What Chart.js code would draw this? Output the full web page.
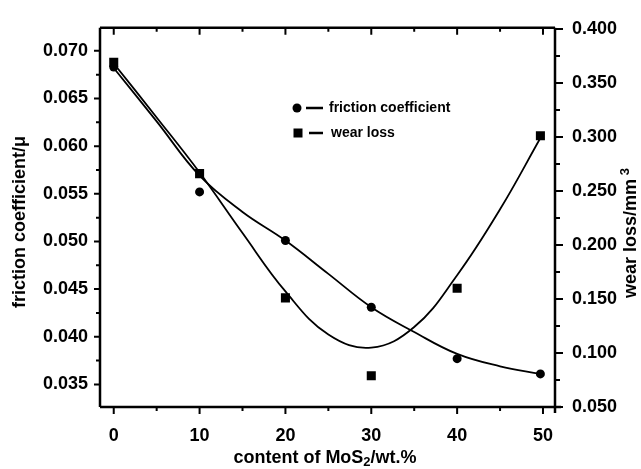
<!DOCTYPE html>
<html>
<head>
<meta charset="utf-8">
<script src="https://cdn.jsdelivr.net/npm/chart.js@4/dist/chart.umd.min.js"></script>
<style>
  body { margin: 0; background: #fff; }
  canvas { display: block; }
</style>
</head>
<body>
<canvas id="chart" width="641" height="469"></canvas>
<script>
// measured points
var xPoints = [0, 10, 20, 30, 40, 49.7];
var frictionPoints = [0.0683, 0.0552, 0.0501, 0.0431, 0.0377, 0.0361];
var wearPoints = [0.369, 0.266, 0.151, 0.079, 0.160, 0.301];
// fitted curves
var fitX = [0, 5, 10, 15, 20, 25, 30, 35, 40, 45, 49.7];
var frictionFit = [0.0682, 0.0626, 0.0569, 0.0531, 0.0501, 0.0466, 0.0431, 0.0405, 0.0382, 0.0369, 0.0361];
var wearFit = [0.368, 0.318, 0.267, 0.211, 0.157, 0.117, 0.105, 0.124, 0.172, 0.233, 0.299];
// tick labels
var xTicks = [0, 10, 20, 30, 40, 50];
var leftTicks = [0.035, 0.040, 0.045, 0.050, 0.055, 0.060, 0.065, 0.070];
var rightTicks = [0.050, 0.100, 0.150, 0.200, 0.250, 0.300, 0.350, 0.400];

var FONT = '"Liberation Sans", Arial, Helvetica, sans-serif';

function pairs(xs, ys) {
	return xs.map(function (x, i) { return { x: x, y: ys[i] }; });
}

function setTicks(list) {
	return function (scale) {
		scale.ticks = list.map(function (v) { return { value: v }; });
	};
}

// axes frame, tick marks, titles and legend
var decorations = {
	id: "decorations",
	afterDraw: function (chart) {
		var c = chart.ctx;
		var a = chart.chartArea;
		var sx = chart.scales.x, sl = chart.scales.y, sr = chart.scales.y1;
		c.save();
		c.strokeStyle = "#000";
		c.fillStyle = "#000";
		c.lineWidth = 2.5;
		c.beginPath();
		c.moveTo(a.left, a.top); c.lineTo(a.right, a.top);
		c.moveTo(a.left, a.bottom); c.lineTo(a.right + 6, a.bottom);
		c.moveTo(a.left, a.top); c.lineTo(a.left, a.bottom);
		c.moveTo(a.right, a.top); c.lineTo(a.right, a.bottom + 6);
		c.stroke();

		c.lineWidth = 2;
		c.beginPath();
		xTicks.forEach(function (v) {
			var px = sx.getPixelForValue(v);
			c.moveTo(px, a.bottom); c.lineTo(px, a.bottom + 7);
			c.moveTo(px, a.top); c.lineTo(px, a.top + 7);
			var m = sx.getPixelForValue(v + 5);
			if (v + 5 < sx.max) {
				c.moveTo(m, a.bottom); c.lineTo(m, a.bottom + 4);
				c.moveTo(m, a.top); c.lineTo(m, a.top + 4);
			}
		});
		leftTicks.forEach(function (v) {
			var py = sl.getPixelForValue(v);
			c.moveTo(a.left, py); c.lineTo(a.left - 6, py);
			if (v + 0.0025 < sl.max) {
				var m = sl.getPixelForValue(v + 0.0025);
				c.moveTo(a.left, m); c.lineTo(a.left - 4, m);
			}
		});
		rightTicks.forEach(function (v) {
			var py = sr.getPixelForValue(v);
			c.moveTo(a.right, py); c.lineTo(a.right + 8, py);
			if (v + 0.025 < sr.max) {
				var m = sr.getPixelForValue(v + 0.025);
				c.moveTo(a.right, m); c.lineTo(a.right + 5, m);
			}
		});
		c.stroke();

		// axis titles
		c.textBaseline = "middle";
		// x title with subscript
		var parts = ["content of MoS", "2", "/wt.%"];
		c.font = "bold 18px " + FONT;
		var w0 = c.measureText(parts[0]).width;
		var w2 = c.measureText(parts[2]).width;
		c.font = "bold 13px " + FONT;
		var w1 = c.measureText(parts[1]).width;
		var tx = 325 - (w0 + w1 + w2) / 2, ty = 458;
		c.textAlign = "left";
		c.font = "bold 18px " + FONT;
		c.fillText(parts[0], tx, ty);
		c.font = "bold 13px " + FONT;
		c.fillText(parts[1], tx + w0, ty + 4);
		c.font = "bold 18px " + FONT;
		c.fillText(parts[2], tx + w0 + w1, ty);

		// left title
		c.save();
		c.translate(20, 222);
		c.rotate(-Math.PI / 2);
		c.textAlign = "center";
		c.fillText("friction coefficient/\u03bc", 0, 0);
		c.restore();

		// right title with superscript
		c.save();
		c.translate(631, 233);
		c.rotate(-Math.PI / 2);
		c.font = "bold 18px " + FONT;
		var r0 = "wear loss/mm";
		var rw0 = c.measureText(r0).width;
		c.font = "bold 13px " + FONT;
		var rw1 = c.measureText(" 3").width;
		var rx = -(rw0 + rw1) / 2;
		c.textAlign = "left";
		c.font = "bold 18px " + FONT;
		c.fillText(r0, rx, 0);
		c.font = "bold 13px " + FONT;
		c.fillText(" 3", rx + rw0, -6);
		c.restore();

		// legend
		c.font = "bold 14px " + FONT;
		c.textAlign = "left";
		c.beginPath();
		c.arc(297, 108, 4.5, 0, Math.PI * 2);
		c.fill();
		c.fillRect(293.5, 128.5, 9, 9);
		c.lineWidth = 2.5;
		c.beginPath();
		c.moveTo(306, 108); c.lineTo(323, 108);
		c.moveTo(309, 133); c.lineTo(323, 133);
		c.stroke();
		c.fillText("friction coefficient", 329, 108);
		c.fillText("wear loss", 331, 133);
		c.restore();
	},
};

var ctx = document.getElementById("chart").getContext("2d");
var myChart = new Chart(ctx, {
	type: "scatter",
	data: {
		datasets: [
			{
				label: "friction coefficient fit",
				data: pairs(fitX, frictionFit),
				yAxisID: "y",
				showLine: true,
				borderColor: "#000",
				borderWidth: 1.8,
				pointRadius: 0,
				tension: 0.4,
			},
			{
				label: "wear loss fit",
				data: pairs(fitX, wearFit),
				yAxisID: "y1",
				showLine: true,
				borderColor: "#000",
				borderWidth: 1.8,
				pointRadius: 0,
				tension: 0.4,
			},
			{
				label: "friction coefficient",
				data: pairs(xPoints, frictionPoints),
				yAxisID: "y",
				pointStyle: "circle",
				pointRadius: 4.5,
				backgroundColor: "#000",
				borderColor: "#000",
				borderWidth: 0,
			},
			{
				label: "wear loss",
				data: pairs(xPoints, wearPoints),
				yAxisID: "y1",
				pointStyle: "rect",
				pointRadius: 6.4,
				backgroundColor: "#000",
				borderColor: "#000",
				borderWidth: 0,
			},
		],
	},
	options: {
		responsive: false,
		animation: false,
		devicePixelRatio: 1,
		layout: { padding: { top: 21, left: 0, right: 0, bottom: 0 } },
		plugins: { legend: { display: false }, tooltip: { enabled: false } },
		scales: {
			x: {
				type: "linear",
				min: -1.6,
				max: 51.4,
				grid: { display: false, drawTicks: false, tickLength: 0 },
				border: { display: false },
				afterBuildTicks: setTicks(xTicks),
				afterFit: function (s) { s.height = 62; },
				ticks: {
					color: "#000",
					padding: 18,
					font: { family: FONT, size: 18, weight: "bold" },
				},
			},
			y: {
				type: "linear",
				position: "left",
				min: 0.03263,
				max: 0.07242,
				grid: { display: false, drawTicks: false, tickLength: 0 },
				border: { display: false },
				afterBuildTicks: setTicks(leftTicks),
				afterFit: function (s) { s.width = 100; },
				ticks: {
					color: "#000",
					padding: 12,
					font: { family: FONT, size: 18, weight: "bold" },
					callback: function (v) { return v.toFixed(3); },
				},
			},
			y1: {
				type: "linear",
				position: "right",
				min: 0.05,
				max: 0.401,
				grid: { display: false, drawTicks: false, tickLength: 0 },
				border: { display: false },
				afterBuildTicks: setTicks(rightTicks),
				afterFit: function (s) { s.width = 86; },
				ticks: {
					color: "#000",
					padding: 17,
					font: { family: FONT, size: 18, weight: "bold" },
					callback: function (v) { return v.toFixed(3); },
				},
			},
		},
	},
	plugins: [decorations],
});
</script>
</body>
</html>
